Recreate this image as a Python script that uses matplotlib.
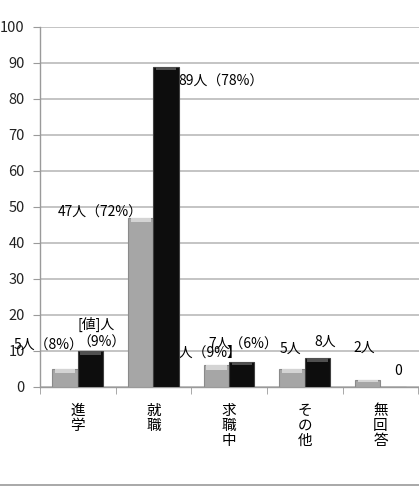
import matplotlib
matplotlib.use("Agg")
import matplotlib.pyplot as plt
from matplotlib.lines import Line2D

plt.rcParams['font.family'] = ['Noto Sans CJK JP', 'DejaVu Sans']

categories = ['進\n学', '就\n職', '求\n職\n中', 'そ\nの\n他', '無\n回\n答']
series_a = [5, 47, 6, 5, 2]
series_b = [10, 89, 7, 8, 0]
labels_a = ['5人（8%）', '47人（72%）', '6人（9%】', '5人', '2人']
labels_b = ['[値]人\n（9%）', '89人（78%）', '7人（6%）', '8人', '0']
yticks = list(range(0, 101, 10))

W, H = 419, 488
fig = plt.figure(figsize=(W / 100, H / 100), dpi=100)
x0, x1 = 40, 419
yb, yt = 387, 27
ax = fig.add_axes([x0 / W, (H - yb) / H, (x1 - x0) / W, (yb - yt) / H])

n = len(categories)
bw = 0.335
xs = list(range(n))
ax.set_xlim(-0.5, n - 0.5 + 0.01)
ax.set_ylim(0, 100)

ax.bar([x - bw / 2 for x in xs], series_a, width=bw, color='#a6a6a6',
       edgecolor='#8a8a8a', linewidth=0.8, zorder=3)
ax.bar([x + bw / 2 for x in xs], series_b, width=bw, color='#0d0d0d',
       edgecolor='#404040', linewidth=0.8, zorder=3)
# bevel highlights
for x, v in zip(xs, series_a):
    if v > 0:
        h = min(1.2, v * 0.3)
        ax.bar(x - bw / 2, h, bottom=v - h, width=bw * 0.8,
               color='#d4d4d4', linewidth=0, zorder=4)
for x, v in zip(xs, series_b):
    if v > 0:
        ax.bar(x + bw / 2, 1.0, bottom=v - 1.0, width=bw * 0.8,
               color='#505050', linewidth=0, zorder=4)

ax.set_yticks(yticks)
ax.set_yticklabels([str(t) for t in yticks], fontsize=10.5, color='#222222')
ax.yaxis.grid(True, color='#c4c4c4', linewidth=1.4, zorder=0)
ax.set_axisbelow(True)
ax.tick_params(axis='y', length=5, color='#9a9a9a', pad=6)

ax.set_xticks(xs)
ax.set_xticklabels(categories, fontsize=10.5, linespacing=1.12, va='top')
ax.tick_params(axis='x', length=0, pad=12)
ax.set_xticks([i - 0.5 for i in range(n + 1)], minor=True)
ax.tick_params(axis='x', which='minor', length=5, color='#9a9a9a')

for s in ['top', 'right']:
    ax.spines[s].set_visible(False)
ax.spines['left'].set_color('#9a9a9a')
ax.spines['bottom'].set_color('#9a9a9a')
ax.spines['left'].set_linewidth(1.0)
ax.spines['bottom'].set_linewidth(1.0)

fs = 10
ax.text(0 - 0.85, 11.5, labels_a[0], fontsize=fs, va='center', ha='left', zorder=2)
ax.text(0.0, 15.0, labels_b[0], fontsize=fs, va='center', ha='left', linespacing=1.3, zorder=2)
ax.text(1 - 1.27, 48.5, labels_a[1], fontsize=fs, va='center', ha='left', zorder=2)
ax.text(1 + 0.33, 84.8, labels_b[1], fontsize=fs, va='center', ha='left', zorder=2)
ax.text(2 - 0.77, 9.4, labels_a[2], fontsize=fs, va='center', ha='left', zorder=2)
ax.text(2 - 0.27, 11.8, labels_b[2], fontsize=fs, va='center', ha='left', zorder=5)
ax.text(3 - 0.33, 10.5, labels_a[3], fontsize=fs, va='center', ha='left', zorder=5)
ax.text(3 + 0.13, 12.5, labels_b[3], fontsize=fs, va='center', ha='left', zorder=5)
ax.text(4 - 0.36, 10.8, labels_a[4], fontsize=fs, va='center', ha='left', zorder=5)
ax.text(4 + 0.18, 4.5, labels_b[4], fontsize=fs, va='center', ha='left', zorder=5)

fig.add_artist(Line2D([0, 1], [3 / H, 3 / H], transform=fig.transFigure,
                      color='#9a9a9a', linewidth=1.2))

fig.savefig('out.png', dpi=100)
